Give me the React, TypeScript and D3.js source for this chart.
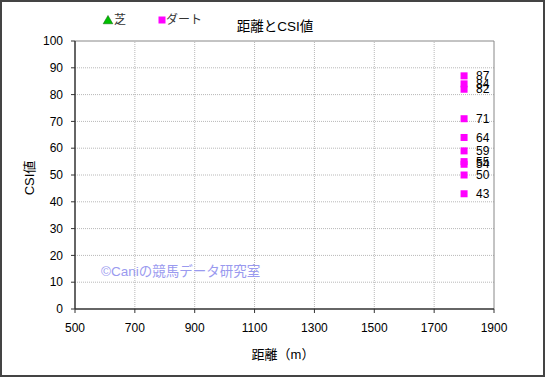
import React from "react";
import * as d3 from "d3";

const turfDistances: number[] = [];
const turfCsi: number[] = [];
const dirtDistances = [1800, 1800, 1800, 1800, 1800, 1800, 1800, 1800, 1800, 1800];
const dirtCsi = [87, 84, 82, 71, 64, 59, 55, 54, 50, 43];
const xTicks = [500, 700, 900, 1100, 1300, 1500, 1700, 1900];
const yTicks = [0, 10, 20, 30, 40, 50, 60, 70, 80, 90, 100];
const legendLabels = ["芝", "ダート"];
const title = "距離とCSI値";
const xTitle = "距離（m）";
const yTitle = "CSI値";
const watermark = "©Caniの競馬データ研究室";

const W = 545, H = 377;
const FONT = "'Liberation Sans', Arial, 'Noto Sans CJK JP', sans-serif";

export default function App() {
  const x = d3.scaleLinear().domain([500, 1900]).range([75, 494]);
  const y = d3.scaleLinear().domain([0, 100]).range([309, 41]);
  const turf = turfDistances.map((d, i) => ({ d, v: turfCsi[i] }));
  const dirt = dirtDistances.map((d, i) => ({ d, v: dirtCsi[i] }));
  const tri = d3.symbol().type(d3.symbolTriangle).size(40)();
  return (
    <div style={{ position: "absolute", left: 0, top: 0 }}>
      <svg width={W} height={H} style={{ display: "block", fontFamily: FONT }}>
        <rect x={1} y={1} width={W - 2} height={H - 2} fill="#fff" stroke="#444" strokeWidth={2} />
        {/* grid */}
        {yTicks.slice(1, -1).map((t) => (
          <line key={"gy" + t} x1={x(500)} x2={x(1900)} y1={y(t)} y2={y(t)} stroke="#b8b8b8" strokeDasharray="1,1" />
        ))}
        {xTicks.slice(1, -1).map((t) => (
          <line key={"gx" + t} x1={x(t)} x2={x(t)} y1={y(0)} y2={y(100)} stroke="#b8b8b8" strokeDasharray="1,1" />
        ))}
        {/* plot frame */}
        <line x1={x(500)} x2={x(1900)} y1={y(100)} y2={y(100)} stroke="#888" />
        <line x1={x(1900)} x2={x(1900)} y1={y(0)} y2={y(100)} stroke="#888" />
        <line x1={x(500)} x2={x(500)} y1={y(0)} y2={y(100)} stroke="#333" strokeWidth={1.5} />
        <line x1={x(500)} x2={x(1900)} y1={y(0)} y2={y(0)} stroke="#333" strokeWidth={1.5} />
        {/* ticks */}
        {yTicks.map((t) => (
          <g key={"ty" + t}>
            <line x1={x(500) - 4} x2={x(500)} y1={y(t)} y2={y(t)} stroke="#333" />
            <text x={63} y={y(t)} dy="0.35em" textAnchor="end" fontSize={12} fill="#000">{t}</text>
          </g>
        ))}
        {xTicks.map((t) => (
          <g key={"tx" + t}>
            <line x1={x(t)} x2={x(t)} y1={y(0)} y2={y(0) + 4} stroke="#333" />
            <text x={x(t)} y={328} dy="0.35em" textAnchor="middle" fontSize={12} fill="#000">{t}</text>
          </g>
        ))}
        {/* watermark */}
        <text x={101} y={271} dy="0.35em" fontSize={13.5} fill="#9a9aef">{watermark}</text>
        {/* data */}
        {turf.map((p, i) => (
          <path key={"t" + i} d={tri!} transform={`translate(${x(p.d)},${y(p.v)})`} fill="#00c000" stroke="#006000" strokeWidth={0.5} />
        ))}
        {dirt.map((p, i) => (
          <rect key={"d" + i} x={x(p.d) - 3.5} y={y(p.v) - 3.5} width={7} height={7} fill="#ff00ff" />
        ))}
        {dirt.map((p, i) => (
          <text key={"l" + i} x={x(p.d) + 12} y={y(p.v)} dy="0.35em" fontSize={12} fill="#000">{p.v}</text>
        ))}
        {/* legend */}
        <path d={tri!} transform="translate(108,21)" fill="#00c000" stroke="#006000" strokeWidth={0.5} />
        <text x={114} y={20} dy="0.35em" fontSize={12} fill="#333">{legendLabels[0]}</text>
        <rect x={158.5} y={16.5} width={7} height={7} fill="#ff00ff" />
        <text x={166} y={20} dy="0.35em" fontSize={12} fill="#333">{legendLabels[1]}</text>
        <text x={275} y={26} dy="0.35em" textAnchor="middle" fontSize={13.5} fill="#000">{title}</text>
        {/* axis titles */}
        <text x={283} y={354} dy="0.35em" textAnchor="middle" fontSize={13} fill="#000">{xTitle}</text>
        <text transform={`translate(29,${y(50) + 3}) rotate(-90)`} dy="0.35em" textAnchor="middle" fontSize={13} fill="#000">{yTitle}</text>
      </svg>
    </div>
  );
}
